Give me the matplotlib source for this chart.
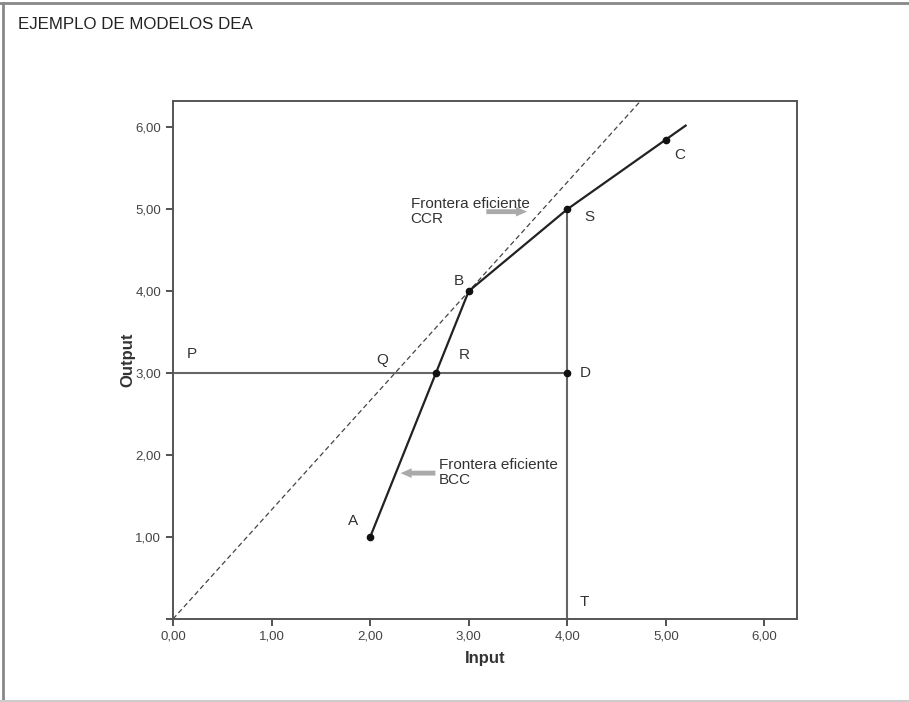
import numpy as np
import matplotlib.pyplot as plt
from matplotlib.lines import Line2D

# DEA example: BCC frontier points and the CCR ray
front_x = [2.0, 3.0, 4.0, 5.0, 5.2]
front_y = [1.0, 4.0, 5.0, 5.85, 6.02]
pts_x = [2.0, 3.0, 4.0, 5.0, 2.667, 4.0]
pts_y = [1.0, 4.0, 5.0, 5.85, 3.0, 3.0]
ccr_x = [0.0, 4.75]
ccr_y = [0.0, 6.33]
hline_x = [0.0, 4.0]
hline_y = [3.0, 3.0]
vline_x = [4.0, 4.0]
vline_y = [0.0, 5.0]

labels = ['P', 'Q', 'R', 'B', 'D', 'S', 'C', 'A', 'T']
lab_x = [0.14, 2.06, 2.9, 2.85, 4.13, 4.17, 5.08, 1.78, 4.12]
lab_y = [3.23, 3.16, 3.22, 4.13, 3.0, 4.9, 5.66, 1.2, 0.21]

ticks = [0, 1, 2, 3, 4, 5, 6]
xticklabels = ['0,00', '1,00', '2,00', '3,00', '4,00', '5,00', '6,00']
yticklabels = ['', '1,00', '2,00', '3,00', '4,00', '5,00', '6,00']

plt.rcParams['font.family'] = ['Liberation Sans', 'DejaVu Sans']

fig = plt.figure(figsize=(9.09, 7.02), dpi=100)
ax = fig.add_axes([0.1903, 0.1182, 0.6865, 0.7379])

# outer frame of the figure box
fig.add_artist(Line2D([0, 1], [0.9955, 0.9955], transform=fig.transFigure, color='#888888', lw=2))
fig.add_artist(Line2D([0.0035, 0.0035], [0, 0.9955], transform=fig.transFigure, color='#888888', lw=2))
fig.add_artist(Line2D([0, 1], [0.0015, 0.0015], transform=fig.transFigure, color='#cccccc', lw=1.5))
fig.text(0.02, 0.965, 'EJEMPLO DE MODELOS DEA', fontsize=12.2, color='#222222', va='center')

ax.plot(ccr_x, ccr_y, color='#444444', lw=0.9, ls=(0, (4, 2.5)))
ax.plot(hline_x, hline_y, color='#666666', lw=1.5)
ax.plot(vline_x, vline_y, color='#666666', lw=1.5)
ax.plot(front_x, front_y, color='#222222', lw=1.6)
ax.plot(pts_x, pts_y, 'o', color='#111111', ms=4.5, ls='none')

for t, x, y in zip(labels, lab_x, lab_y):
    ax.text(x, y, t, fontsize=11, color='#333333', ha='left', va='center')

ax.text(2.41, 5.15, 'Frontera eficiente\nCCR', fontsize=11, color='#333333', va='top', linespacing=1.1)
ax.annotate('', xy=(3.62, 4.97), xytext=(3.15, 4.97),
            arrowprops=dict(arrowstyle='simple,head_width=0.7,head_length=0.8,tail_width=0.35',
                            color='#aaaaaa', lw=0))
ax.text(2.7, 1.97, 'Frontera eficiente\nBCC', fontsize=11, color='#333333', va='top', linespacing=1.1)
ax.annotate('', xy=(2.28, 1.78), xytext=(2.69, 1.78),
            arrowprops=dict(arrowstyle='simple,head_width=0.7,head_length=0.8,tail_width=0.35',
                            color='#aaaaaa', lw=0))

ax.set_xlim(0, 6.33)
ax.set_ylim(0, 6.32)
ax.set_xticks(ticks)
ax.set_xticklabels(xticklabels)
ax.set_yticks(ticks)
ax.set_yticklabels(yticklabels)
ax.tick_params(axis='both', labelsize=9.5, colors='#444444', width=1.3, length=5)
for s in ax.spines.values():
    s.set_color('#555555')
    s.set_linewidth(1.4)

ax.set_xlabel('Input', fontsize=12, fontweight='bold', color='#333333', labelpad=6)
ax.set_ylabel('Output', fontsize=12, fontweight='bold', color='#333333', labelpad=0)

fig.savefig('out.png', dpi=100)
